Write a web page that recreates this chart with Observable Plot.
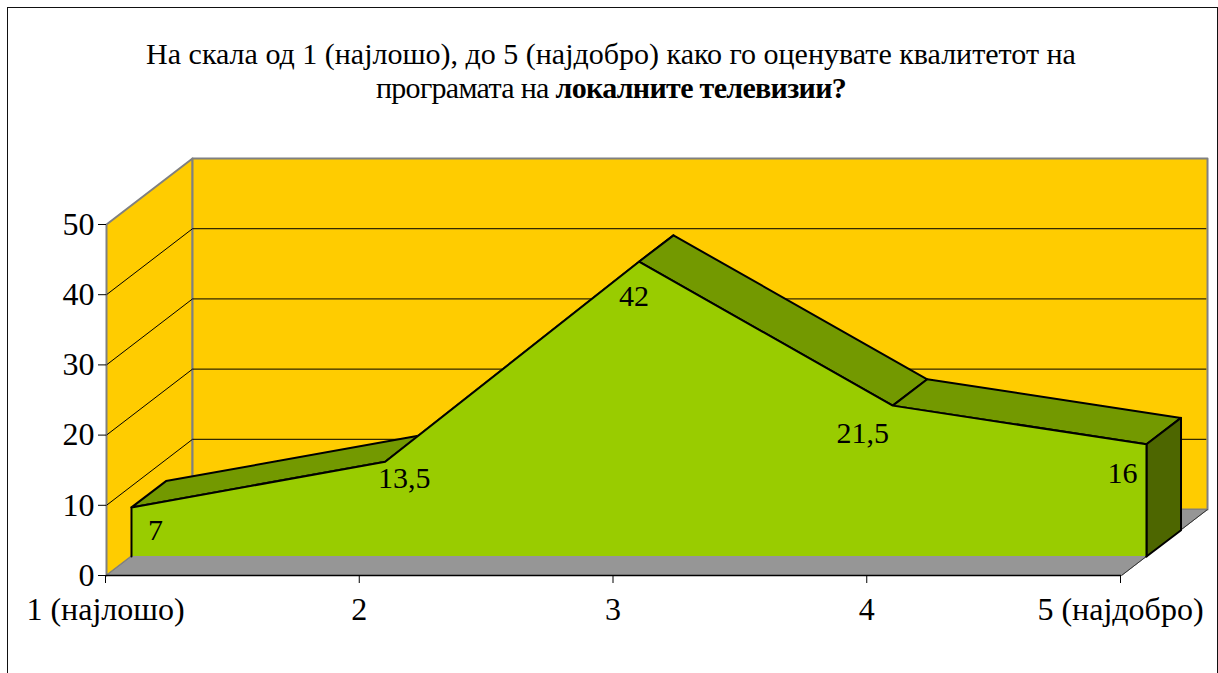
<!DOCTYPE html>
<html>
<head>
<meta charset="utf-8">
<script src="https://cdn.jsdelivr.net/npm/d3@7"></script>
<script src="https://cdn.jsdelivr.net/npm/@observablehq/plot@0.6"></script>
<style>
html,body{margin:0;padding:0;background:#fff;overflow:hidden;height:673px}
#frame{position:absolute;left:7px;top:7px;width:1209px;height:700px;border:1.5px solid #111;box-sizing:content-box}
#title{position:absolute;left:0;top:37px;width:1222px;text-align:center;font:30px/34px "Liberation Serif",serif;color:#000}
#title .second{letter-spacing:-0.68px}
#chart{position:absolute;left:0;top:130px}
svg{display:block}
</style>
</head>
<body>
<div id="frame"></div>
<div id="title">На скала од 1 (најлошо), до 5 (најдобро) како го оценувате квалитетот на<br><span class="second">програмата на <b>локалните телевизии?</b></span></div>
<div id="chart"></div>
<script>
const categories = ["1 (најлошо)", "2", "3", "4", "5 (најдобро)"];
const values = [7, 13.5, 42, 21.5, 16];
const yTicks = [0, 10, 20, 30, 40, 50];
const gridValues = [10, 20, 30, 40];

// oblique projection of depth, expressed in scale units
const wallX = 0.339, wallY = 9.4;      // back wall
const frontX = 0.0985, frontY = 2.7;   // front face of the area
const backX = 0.2345, backY = 6.45;    // back face of the area
const labelDx = [24, 19, -5, -30, -24];
const labelDy = [23, 17, 35, 28, 29];

const iMax = categories.length - 1, yMax = 50;
const poly = pts => pts.map(([x, y]) => ({x, y}));

const leftWall = poly([[0,0],[wallX,wallY],[wallX,yMax+wallY],[0,yMax],[0,0]]);
const backWall = poly([[wallX,wallY],[iMax+wallX,wallY],[iMax+wallX,yMax+wallY],[wallX,yMax+wallY],[wallX,wallY]]);
const floor = poly([[0,0],[iMax,0],[iMax+wallX,wallY],[wallX,wallY],[0,0]]);

const bands = values.slice(0, -1).flatMap((v, i) => poly([
  [i+frontX, v+frontY],
  [i+1+frontX, values[i+1]+frontY],
  [i+1+backX, values[i+1]+backY],
  [i+backX, v+backY],
  [i+frontX, v+frontY]
]).map(d => ({...d, id: i})));

const side = poly([
  [iMax+frontX, frontY],
  [iMax+frontX, values[iMax]+frontY],
  [iMax+backX, values[iMax]+backY],
  [iMax+backX, backY],
  [iMax+frontX, frontY]
]);

const front = values.map((v, i) => ({x: i+frontX, y1: frontY, y2: v+frontY}));
const frontOutline = poly([
  [frontX, frontY],
  ...values.map((v, i) => [i+frontX, v+frontY]),
  [iMax+frontX, frontY]
]);

const fontFamily = '"Liberation Serif", serif';
const wallStyle = {x: "x", y: "y", fill: "#FFCC00", stroke: "#808080", strokeWidth: 2};

const plot = Plot.plot({
  width: 1218,
  height: 543,
  marginLeft: 106,
  marginRight: 97,
  marginTop: 94,
  marginBottom: 98,
  style: {fontFamily, background: "transparent", overflow: "visible"},
  x: {domain: [0, iMax], axis: null},
  y: {domain: [0, yMax], axis: null},
  marks: [
    Plot.line(leftWall, wallStyle),
    Plot.line(backWall, wallStyle),
    Plot.line(floor, {x: "x", y: "y", fill: "#969696", stroke: "#808080", strokeWidth: 1}),
    Plot.link(gridValues, {x1: 0, y1: d => d, x2: wallX, y2: d => d + wallY, stroke: "#000", strokeWidth: 1}),
    Plot.link(gridValues, {x1: wallX, y1: d => d + wallY, x2: iMax + wallX - 0.005, y2: d => d + wallY, stroke: "#000", strokeWidth: 1}),
    Plot.link([0], {x1: iMax, y1: 0, x2: iMax + wallX, y2: wallY, stroke: "#333", strokeWidth: 1}),
    Plot.line(bands, {x: "x", y: "y", z: "id", fill: "#739900", stroke: "#000", strokeWidth: 2, strokeLinejoin: "round"}),
    Plot.line(side, {x: "x", y: "y", fill: "#4D6600", stroke: "#000", strokeWidth: 2, strokeLinejoin: "round"}),
    Plot.areaY(front, {x: "x", y1: "y1", y2: "y2", fill: "#99CC00"}),
    Plot.line(frontOutline, {x: "x", y: "y", stroke: "#000", strokeWidth: 2, strokeLinejoin: "round"}),
    ...values.map((v, i) => Plot.text([v], {
      x: i + frontX,
      y: v + frontY,
      text: d => String(d).replace(".", ","),
      dx: labelDx[i],
      dy: labelDy[i],
      fontSize: 30,
      fill: "#000",
      fontFamily
    })),
    Plot.ruleY([0], {x1: 0, x2: iMax, stroke: "#000", strokeWidth: 1.5}),
    Plot.axisX({
      ticks: d3.range(categories.length),
      tickFormat: i => categories[i],
      tickSize: 8,
      tickPadding: 14,
      fontSize: 32,
      label: null,
      anchor: "bottom",
      textOverflow: null,
      lineWidth: 100,
      dx: -1,
      fontFamily
    }),
    Plot.axisY({
      ticks: yTicks,
      tickSize: 8,
      tickPadding: 4,
      fontSize: 32,
      label: null,
      anchor: "left",
      fontFamily
    })
  ]
});
document.getElementById("chart").appendChild(plot);
</script>
</body>
</html>
